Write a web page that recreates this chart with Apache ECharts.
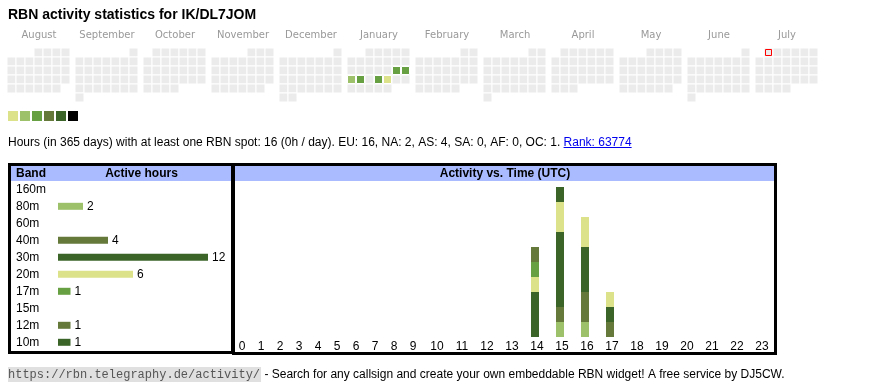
<!DOCTYPE html>
<html><head><meta charset="utf-8">
<script src="https://cdn.jsdelivr.net/npm/echarts@6/dist/echarts.min.js"></script>
<style>html,body{margin:0;padding:0;background:#fff}#c{width:870px;height:390px}</style>
</head><body><div id="c"></div>
<script>
// ---------- data ----------
const titleText = 'RBN activity statistics for IK/DL7JOM';
const monthKeys = ['2024-08','2024-09','2024-10','2024-11','2024-12','2025-01','2025-02','2025-03','2025-04','2025-05','2025-06','2025-07'];
const monthNames = ['August','September','October','November','December','January','February','March','April','May','June','July'];
const activeDays = ['2025-01-18','2025-01-19','2025-01-20','2025-01-21','2025-01-23','2025-01-24'];
const activeDayLevels = [3,3,2,3,3,1];
const todayMarker = ['2025-07-01'];
const levelValues = [1,2,3,4,5,6];

const bands = ['160m','80m','60m','40m','30m','20m','17m','15m','12m','10m'];
const bandHours = [0,2,0,4,12,6,1,0,1,1];

const hourLabels = ['0','1','2','3','4','5','6','7','8','9','10','11','12','13','14','15','16','17','18','19','20','21','22','23'];
const hourly160 = [0,0,0,0,0,0,0,0,0,0,0,0,0,0,0,0,0,0,0,0,0,0,0,0];
const hourly80  = [0,0,0,0,0,0,0,0,0,0,0,0,0,0,0,1,1,0,0,0,0,0,0,0];
const hourly60  = [0,0,0,0,0,0,0,0,0,0,0,0,0,0,0,0,0,0,0,0,0,0,0,0];
const hourly40  = [0,0,0,0,0,0,0,0,0,0,0,0,0,0,0,1,2,1,0,0,0,0,0,0];
const hourly30  = [0,0,0,0,0,0,0,0,0,0,0,0,0,0,3,5,3,1,0,0,0,0,0,0];
const hourly20  = [0,0,0,0,0,0,0,0,0,0,0,0,0,0,1,2,2,1,0,0,0,0,0,0];
const hourly17  = [0,0,0,0,0,0,0,0,0,0,0,0,0,0,1,0,0,0,0,0,0,0,0,0];
const hourly15  = [0,0,0,0,0,0,0,0,0,0,0,0,0,0,0,0,0,0,0,0,0,0,0,0];
const hourly12  = [0,0,0,0,0,0,0,0,0,0,0,0,0,0,1,0,0,0,0,0,0,0,0,0];
const hourly10  = [0,0,0,0,0,0,0,0,0,0,0,0,0,0,0,1,0,0,0,0,0,0,0,0];
const hourlyByBand = [hourly160,hourly80,hourly60,hourly40,hourly30,hourly20,hourly17,hourly15,hourly12,hourly10];

const summaryText = 'Hours (in 365 days) with at least one RBN spot: 16 (0h / day). EU: 16, NA: 2, AS: 4, SA: 0, AF: 0, OC: 1.';
const rankText = 'Rank: 63774';
const footerUrl = 'https://rbn.telegraphy.de/activity/';
const footerText = ' - Search for any callsign and create your own embeddable RBN widget! A free service by DJ5CW.';

// ---------- styles ----------
const levelColors = ['#dbe28a','#9dc16a','#67a042','#65793a','#3b6528','#000000'];
const bandColorIdx = [0,1,2,3,4,0,2,1,3,4];
const bandColors = bandColorIdx.map(i => levelColors[i]);
const FONT = '"Liberation Sans", Arial, sans-serif';
const headerBlue = '#aabbff';
const cellGrey = '#ebebeb';

const chart = echarts.init(document.getElementById('c'), null, {renderer: 'canvas'});
const mctx = document.createElement('canvas').getContext('2d');
function tw(text, font) { mctx.font = font; return mctx.measureText(text).width; }

// calendars (one per month, weeks as rows, Monday first)
const calendars = monthKeys.map((k, i) => ({
  orient: 'vertical', range: k, left: 7 + 68 * i, top: 48, cellSize: [9, 9],
  splitLine: {show: false},
  itemStyle: {color: cellGrey, borderColor: '#ffffff', borderWidth: 1},
  dayLabel: {show: false, firstDay: 1}, monthLabel: {show: false}, yearLabel: {show: false},
  silent: true
}));

const series = [];
const heatIdx = [];
monthKeys.forEach((k, i) => {
  const d = [];
  activeDays.forEach((day, j) => { if (day.startsWith(k)) d.push([day, activeDayLevels[j]]); });
  heatIdx.push(series.length);
  series.push({type: 'heatmap', coordinateSystem: 'calendar', calendarIndex: i, data: d,
    itemStyle: {borderColor: '#ffffff', borderWidth: 1}, emphasis: {disabled: true}, silent: true});
});

// band bar chart
series.push({type: 'bar', xAxisIndex: 0, yAxisIndex: 0, data: bandHours, barWidth: 7, silent: true,
  itemStyle: {color: p => bandColors[p.dataIndex]},
  label: {show: true, position: 'right', distance: 4, fontSize: 12, fontFamily: FONT, color: '#000',
    formatter: p => p.value > 0 ? String(p.value) : ''}});

// hourly stacked bars
bands.forEach((b, bi) => {
  series.push({type: 'bar', name: b + 'A', xAxisIndex: 1, yAxisIndex: 1, stack: 'hA', barWidth: 8, silent: true,
    data: hourlyByBand[bi].slice(0, 10), itemStyle: {color: bandColors[bi]}});
  series.push({type: 'bar', name: b + 'B', xAxisIndex: 2, yAxisIndex: 2, stack: 'hB', barWidth: 8, silent: true,
    data: hourlyByBand[bi].slice(10), itemStyle: {color: bandColors[bi]}});
});

// graphics
const G = [];
function txt(text, x, y, font, fill, align) {
  G.push({type: 'text', silent: true, z: 10, style: {text, x, y, font, fill: fill || '#000',
    align: align || 'left', textAlign: align || 'left', verticalAlign: 'middle', textVerticalAlign: 'middle'}});
}
txt(titleText, 8, 15.5, 'bold 14px ' + FONT);
monthNames.forEach((m, i) => txt(m, 39 + 68 * i, 35, '10px "DejaVu Sans", sans-serif', '#999999', 'center'));

const sFont = '12px ' + FONT;
txt(summaryText, 8, 142.5, sFont);
const rx = 8 + tw(summaryText + ' ', sFont);
txt(rankText, rx, 142.5, sFont, '#0000ee');
G.push({type: 'line', silent: true, shape: {x1: rx, y1: 147.5, x2: rx + tw(rankText, sFont), y2: 147.5}, style: {stroke: '#0000ee', lineWidth: 1}});

// table frames
G.push({type: 'rect', silent: true, shape: {x: 11, y: 166, width: 220, height: 15}, style: {fill: headerBlue}});
G.push({type: 'rect', silent: true, shape: {x: 235, y: 166, width: 539, height: 15}, style: {fill: headerBlue}});
G.push({type: 'rect', silent: true, z: 5, shape: {x: 9.5, y: 164.5, width: 223, height: 188}, style: {fill: 'none', stroke: '#000', lineWidth: 3}});
G.push({type: 'rect', silent: true, z: 5, shape: {x: 233.5, y: 164.5, width: 542, height: 189}, style: {fill: 'none', stroke: '#000', lineWidth: 3}});
const hFont = 'bold 12px ' + FONT;
txt('Band', 16, 173.5, hFont);
txt('Active hours', 141.5, 173.5, hFont, '#000', 'center');
txt('Activity vs. Time (UTC)', 505, 173.5, hFont, '#000', 'center');

// footer
const uFont = '12px "Liberation Mono", monospace';
const uw = tw(footerUrl, uFont);
G.push({type: 'rect', silent: true, shape: {x: 8, y: 367, width: uw + 1, height: 15}, style: {fill: '#e0e0e0'}});
txt(footerUrl, 8, 374.5, uFont, '#555555');
txt(footerText, 9 + uw, 374.5, sFont, '#000');

const hideAxis = {axisLine: {show: false}, axisTick: {show: false}, splitLine: {show: false}};
const option = {
  animation: false,
  textStyle: {fontFamily: FONT},
  calendar: calendars,
  visualMap: [{
    type: 'piecewise', seriesIndex: heatIdx, orient: 'horizontal', left: 8, top: 111,
    itemWidth: 10, itemHeight: 10, itemGap: 2, itemSymbol: 'rect', showLabel: false,
    selectedMode: false, padding: 0, textGap: 0,
    pieces: levelValues.map((v, i) => ({value: v, color: levelColors[i]}))
  }],
  grid: [
    {left: 58, top: 180.8, width: 150, height: 170},
    {left: 232.5, top: 187, width: 190, height: 150},
    {left: 422.5, top: 187, width: 350, height: 150}
  ],
  xAxis: [
    {type: 'value', gridIndex: 0, min: 0, max: 12, show: false},
    Object.assign({type: 'category', gridIndex: 1, data: hourLabels.slice(0, 10),
      axisLabel: {margin: 4, fontSize: 12, color: '#000', fontFamily: FONT}}, hideAxis),
    Object.assign({type: 'category', gridIndex: 2, data: hourLabels.slice(10),
      axisLabel: {margin: 4, fontSize: 12, color: '#000', fontFamily: FONT, padding: [0, 0, 0, 4]}}, hideAxis)
  ],
  yAxis: [
    Object.assign({type: 'category', gridIndex: 0, data: bands, inverse: true,
      axisLabel: {align: 'left', margin: 42, fontSize: 12, color: '#000', fontFamily: FONT}}, hideAxis),
    {type: 'value', gridIndex: 1, min: 0, max: 10, show: false},
    {type: 'value', gridIndex: 2, min: 0, max: 10, show: false}
  ],
  series,
  graphic: {elements: G}
};
chart.setOption(option);

// "today" marker: located through the calendar coordinate system
const ci = monthKeys.indexOf(todayMarker[0].slice(0, 7));
const tp = chart.convertToPixel({calendarIndex: ci}, todayMarker[0]);
if (tp) {
  G.push({type: 'rect', silent: true, z: 50,
    shape: {x: Math.floor(tp[0] - 3) + 0.5, y: Math.floor(tp[1] - 3) + 0.5, width: 6, height: 6},
    style: {fill: cellGrey, stroke: '#ff0000', lineWidth: 1}});
  chart.setOption({graphic: {elements: G}});
}
</script></body></html>
